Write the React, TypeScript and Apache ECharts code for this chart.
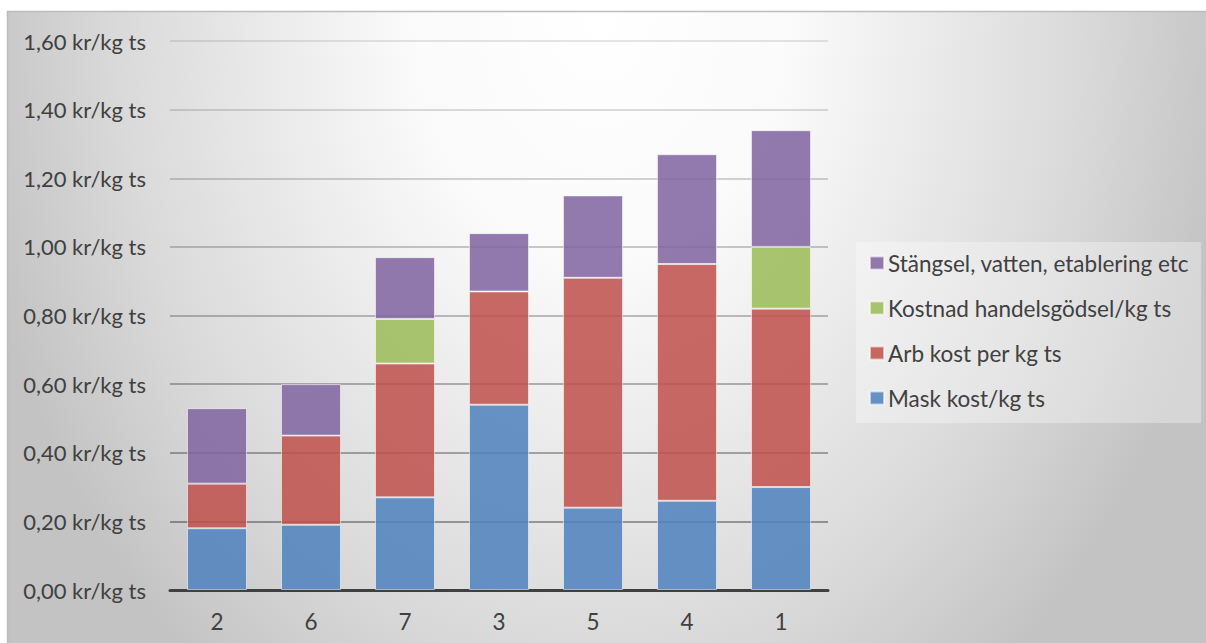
import React, { useEffect, useRef } from "react";
import * as echarts from "echarts";

// Cost per kg dry matter (ts) for each farm, stacked by cost type
const categories = ["2", "6", "7", "3", "5", "4", "1"];
const maskKost = [0.18, 0.19, 0.27, 0.54, 0.24, 0.26, 0.3];
const arbKost = [0.13, 0.26, 0.39, 0.33, 0.67, 0.69, 0.52];
const godselKost = [null, null, 0.13, null, null, null, 0.18];
const stangselKost = [0.22, 0.15, 0.18, 0.17, 0.24, 0.32, 0.34];

const seriesNames = [
  "Mask kost/kg ts",
  "Arb kost per kg ts",
  "Kostnad handelsgödsel/kg ts",
  "Stängsel, vatten, etablering etc",
];
const seriesColors = [
  "rgba(79,129,189,0.86)",
  "rgba(192,80,77,0.86)",
  "rgba(155,187,89,0.86)",
  "rgba(128,100,162,0.86)",
];

const FONT = "Lato";
const TEXT = "#404040";

const W = 1206;
const H = 643;

export default function App() {
  const ref = useRef<HTMLDivElement>(null);

  useEffect(() => {
    if (!ref.current) return;
    const chart = echarts.init(ref.current, null, { renderer: "svg" });

    const gridTop = 41;
    const gridBottom = 590;
    // elliptical light spot near the top: horizontal radius 640, vertical 850
    const sx = 640 / 850;

    const seriesData = [maskKost, arbKost, godselKost, stangselKost];

    chart.setOption({
      animation: false,
      textStyle: { fontFamily: FONT },
      graphic: [
        {
          type: "rect",
          z: -20,
          x: 7,
          y: 11,
          scaleX: sx,
          shape: { x: 0, y: 0, width: (W - 7) / sx, height: H - 11 },
          style: {
            fill: new echarts.graphic.RadialGradient(
              (600 - 7) / sx,
              0,
              850,
              [
                { offset: 0, color: "#ffffff" },
                { offset: 0.3, color: "#fafafa" },
                { offset: 0.75, color: "#dadada" },
                { offset: 1, color: "#c3c3c3" },
              ],
              true
            ),
          },
          silent: true,
        },
        {
          type: "line",
          z: -19,
          shape: { x1: 7, y1: 11.5, x2: W, y2: 11.5 },
          style: { stroke: "#bdbdbd", lineWidth: 1.5 },
          silent: true,
        },
        {
          type: "line",
          z: -19,
          shape: { x1: 7.5, y1: 11, x2: 7.5, y2: H },
          style: { stroke: "#bdbdbd", lineWidth: 1.5 },
          silent: true,
        },
        {
          type: "rect",
          z: -18,
          shape: { x: 856, y: 242, width: 345, height: 181 },
          style: { fill: "rgba(255,255,255,0.32)" },
          silent: true,
        },
      ],
      legend: {
        orient: "vertical",
        left: 869,
        top: 251,
        padding: 0,
        itemGap: 21,
        itemWidth: 14,
        itemHeight: 13,
        icon: "rect",
        data: [seriesNames[3], seriesNames[2], seriesNames[1], seriesNames[0]],
        textStyle: {
          fontFamily: FONT,
          fontSize: 22.5,
          color: TEXT,
          lineHeight: 24,
          padding: [0, 0, 0, -1],
        },
      },
      grid: {
        left: 170,
        right: W - 828,
        top: gridTop,
        bottom: H - gridBottom,
        containLabel: false,
      },
      xAxis: {
        type: "category",
        data: categories,
        axisLine: { lineStyle: { color: "#404040", width: 3 } },
        axisTick: { show: false },
        axisLabel: {
          fontFamily: FONT,
          fontSize: 22.5,
          color: TEXT,
          margin: 20,
        },
      },
      yAxis: {
        type: "value",
        min: 0,
        max: 1.6,
        interval: 0.2,
        axisLine: { show: false },
        axisTick: { show: false },
        axisLabel: {
          fontFamily: FONT,
          fontSize: 22,
          color: TEXT,
          margin: 24,
          formatter: (v: number) => v.toFixed(2).replace(".", ",") + " kr/kg ts",
        },
        splitLine: {
          lineStyle: {
            width: 2,
            color: new echarts.graphic.LinearGradient(
              0,
              gridTop,
              0,
              gridBottom,
              [
                { offset: 0, color: "rgba(0,0,0,0.1)" },
                { offset: 1, color: "rgba(0,0,0,0.38)" },
              ],
              true
            ),
          },
        },
      },
      series: seriesNames.map((name, i) => ({
        name,
        type: "bar",
        stack: "total",
        barWidth: 60,
        data: seriesData[i],
        itemStyle: {
          color: seriesColors[i],
          borderColor: "rgba(255,255,255,0.55)",
          borderWidth: 1,
        },
      })),
    });

    return () => chart.dispose();
  }, []);

  return (
    <div
      ref={ref}
      style={{ position: "absolute", left: 0, top: 0, width: W, height: H }}
    />
  );
}
